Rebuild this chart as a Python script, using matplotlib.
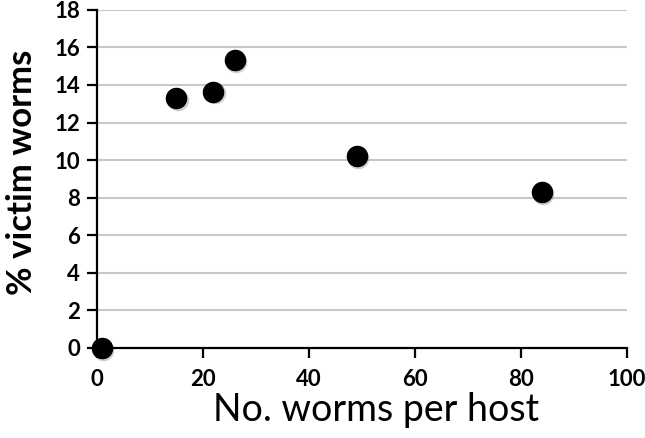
import matplotlib.pyplot as plt

# worms per host vs % victim worms
worms_per_host = [1, 15, 22, 26, 49, 84]
pct_victim = [0, 13.3, 13.65, 15.35, 10.2, 8.3]

x_ticks = [0, 20, 40, 60, 80, 100]
y_ticks = [0, 2, 4, 6, 8, 10, 12, 14, 16, 18]

plt.rcParams['font.family'] = ['Lato', 'DejaVu Sans']

fig = plt.figure(figsize=(6.45, 4.38), dpi=100)
ax = fig.add_axes([0.150, 0.2055, 0.822, 0.772])

for y in y_ticks[1:]:
    ax.axhline(y, color='#c8c8c8', linewidth=1.5, zorder=0)

# soft shadow then the points
ax.plot([x + 0.25 for x in worms_per_host], [y - 0.1 for y in pct_victim], 'o',
        color='#888888', markersize=15.5, alpha=0.4, zorder=2, clip_on=False, markeredgewidth=0)
ax.plot(worms_per_host, pct_victim, 'o', color='black', markersize=14.5,
        zorder=3, clip_on=False)

ax.set_xlim(0, 100)
ax.set_ylim(0, 18)
ax.set_xticks(x_ticks)
ax.set_yticks(y_ticks)

for s in ['top', 'right']:
    ax.spines[s].set_visible(False)
for s in ['left', 'bottom']:
    ax.spines[s].set_linewidth(1.6)
    ax.spines[s].set_color('black')

ax.tick_params(axis='both', direction='out', length=7, width=1.6, labelsize=16)
ax.tick_params(axis='x', pad=8)
ax.tick_params(axis='y', pad=5)
for lab in ax.get_xticklabels() + ax.get_yticklabels():
    lab.set_fontweight('bold')

ax.set_xlabel("No. worms per host", fontsize=27)
ax.set_ylabel("% victim worms", fontsize=25, fontweight='bold')
ax.xaxis.set_label_coords(0.527, -0.13)
ax.yaxis.set_label_coords(-0.11, 0.52)

fig.savefig("out.png", dpi=100)
